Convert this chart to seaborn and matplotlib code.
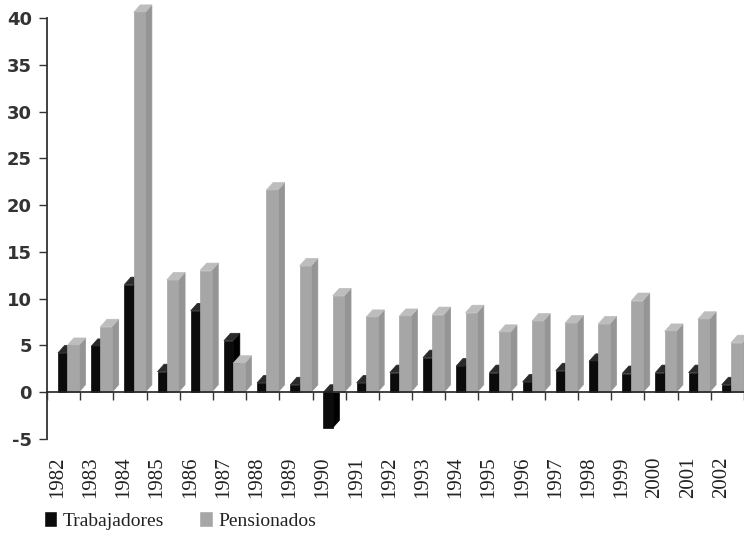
import numpy as np
import pandas as pd
import matplotlib
matplotlib.use('Agg')
import matplotlib.pyplot as plt
import matplotlib.transforms as mtrans
from matplotlib.patches import Polygon
import seaborn as sns

anios = [str(a) for a in range(1982, 2003)]
trabajadores = [4.2, 4.9, 11.5, 2.2, 8.7, 5.5, 1.0, 0.8, -3.8, 1.0, 2.1,
                3.7, 2.8, 2.1, 1.1, 2.3, 3.3, 2.0, 2.1, 2.1, 0.8]
pensionados = [5.0, 7.0, 40.6, 12.0, 13.0, 3.1, 21.6, 13.5, 10.3, 8.0, 8.1,
               8.3, 8.5, 6.4, 7.6, 7.4, 7.3, 9.8, 6.5, 7.8, 5.3]

df = pd.DataFrame({
    'anio': anios * 2,
    'valor': trabajadores + pensionados,
    'serie': ['Trabajadores'] * len(anios) + ['Pensionados'] * len(anios),
})

sns.set_theme(style='white')
plt.rcParams['axes.unicode_minus'] = False
fig = plt.figure(figsize=(7.44, 5.47), dpi=100)
ax = fig.add_axes([47 / 744, 108 / 547, 697 / 744, 421 / 547])

negro = '#0b0b0b'
gris = '#a6a6a6'
sns.barplot(data=df, x='anio', y='valor', hue='serie', palette=[negro, gris],
            width=0.6, gap=0, dodge=True, saturation=1, ax=ax, legend=True)

# geometria de las barras (pseudo 3D)
dx, dy = 0.2, 0.8
conf = {0: (-0.17, 0.28, negro, '#000000', '#2a2a2a', 3),
        1: (0.11, 0.35, gris, '#959595', '#bdbdbd', 4)}
for k, cont in enumerate(ax.containers[:2]):
    off, w, cfrente, clado, ctapa, z = conf[k]
    for bar in cont:
        cx = round(bar.get_x() + bar.get_width() / 2)
        x0 = cx + off
        x1 = x0 + w
        y0 = min(bar.get_y(), bar.get_y() + bar.get_height())
        y1 = max(bar.get_y(), bar.get_y() + bar.get_height())
        bar.set_x(x0)
        bar.set_width(w)
        bar.set_zorder(z + 0.2)
        bar.set_edgecolor(cfrente)
        bar.set_linewidth(0.5)
        bar.set_clip_on(False)
        lado = Polygon([(x1, y0), (x1 + dx, y0 + dy), (x1 + dx, y1 + dy), (x1, y1)],
                       closed=True, facecolor=clado, edgecolor=clado, lw=0.5,
                       zorder=z, clip_on=False)
        tapa = Polygon([(x0, y1), (x0 + dx, y1 + dy), (x1 + dx, y1 + dy), (x1, y1)],
                       closed=True, facecolor=ctapa, edgecolor=ctapa, lw=0.5,
                       zorder=z + 0.1, clip_on=False)
        ax.add_patch(lado)
        ax.add_patch(tapa)

ax.set_xlim(-0.5, 20.3)
ax.set_ylim(-5, 40)
ax.set_yticks(range(-5, 41, 5))
ax.set_xlabel('')
ax.set_ylabel('')

for s in ['top', 'right']:
    ax.spines[s].set_visible(False)
ax.spines['left'].set_color('#333333')
ax.spines['left'].set_linewidth(1.3)
ax.spines['bottom'].set_position(('data', 0))
ax.spines['bottom'].set_color('#222222')
ax.spines['bottom'].set_linewidth(1.2)
ax.spines['bottom'].set_zorder(6)

ax.set_xticks(range(len(anios)))
ax.set_xticklabels(anios, rotation=90, family='Liberation Serif', fontsize=15, color='#222222')
ax.set_xticks(np.arange(-0.5, len(anios), 1), minor=True)
ax.tick_params(axis='x', which='major', length=0, pad=46)
ax.tick_params(axis='x', which='minor', length=6, width=1, direction='out', color='#333333', bottom=True)
ax.tick_params(axis='y', length=6, width=1, direction='out', color='#333333', left=True, pad=5)
for t in ax.get_yticklabels():
    t.set_family('DejaVu Sans')
    t.set_fontsize(13)
    t.set_fontweight('bold')
    t.set_color('#333333')
desplaza = mtrans.ScaledTranslation(-6 / 100, 0, fig.dpi_scale_trans)
for t in ax.get_xticklabels():
    t.set_transform(t.get_transform() + desplaza)

sns.move_legend(ax, 'lower left', bbox_to_anchor=(0.035, 0.0), bbox_transform=fig.transFigure,
                ncol=2, frameon=False, title=None, handlelength=0.7, handleheight=0.9,
                handletextpad=0.3, columnspacing=1.8,
                prop={'family': 'Liberation Serif', 'size': 14})
leg = ax.get_legend()
for txt in leg.get_texts():
    txt.set_color('#222222')

fig.savefig('out.png', dpi=100)
